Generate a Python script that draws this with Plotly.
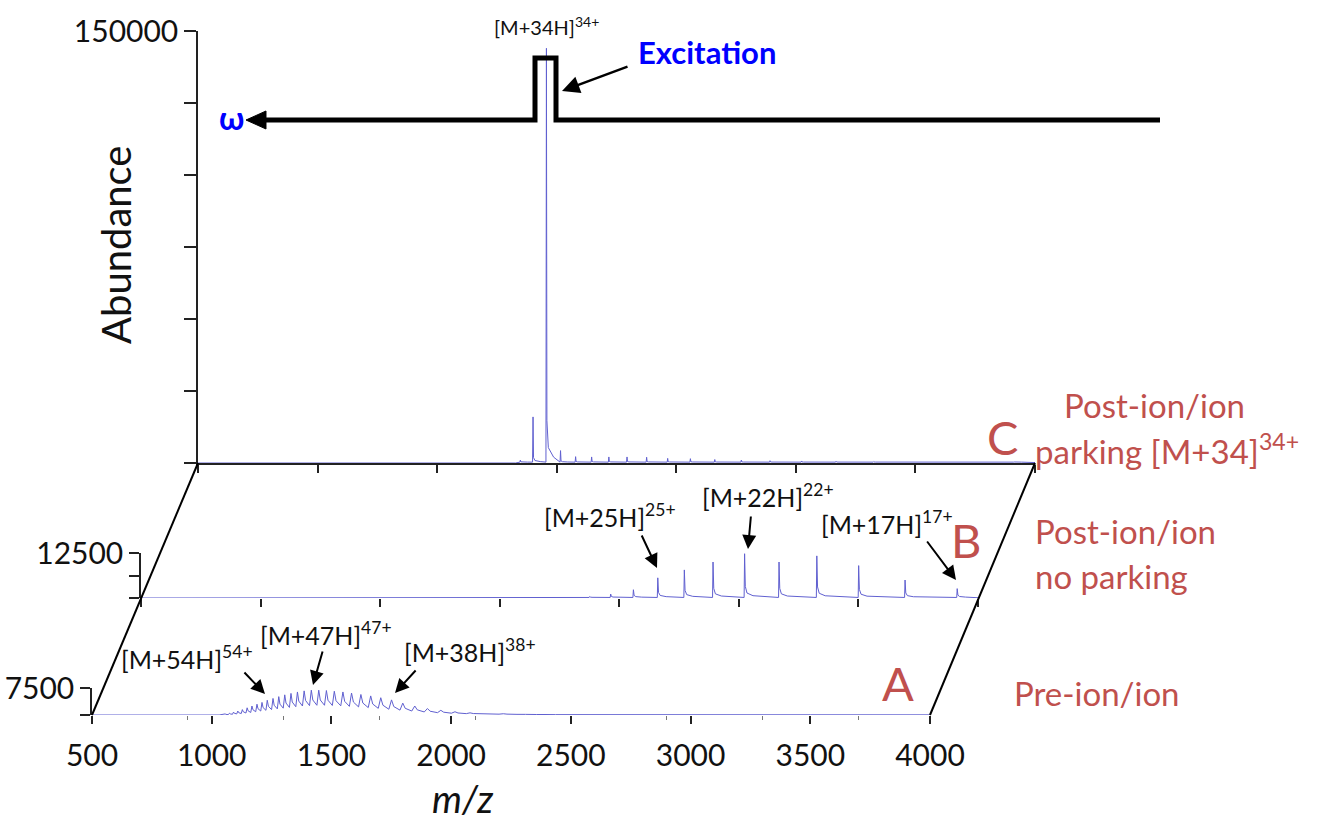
import plotly.graph_objects as go

W, H = 1335, 826

# ---------------- data ----------------
mz_ticks = [500, 1000, 1500, 2000, 2500, 3000, 3500, 4000]
mz_tick_text = [str(v) for v in mz_ticks]
mz_minor_A = [900, 1300, 1700, 2100, 2900, 3300, 3700]

# Panel A: pre-ion/ion (charge states 63+ ... 28+)
A_mz = [1056, 1074, 1091, 1109, 1128, 1148, 1168, 1189, 1210, 1232, 1256, 1280,
        1305, 1331, 1358, 1386, 1416, 1447, 1479, 1512, 1548, 1584, 1623, 1664,
        1706, 1751, 1798, 1848, 1901, 1957, 2016, 2079, 2146, 2218, 2294, 2376]
A_peak = [300, 500, 800, 1100, 1500, 2000, 2500, 3000, 3500, 4100, 4600, 5100,
          5600, 6000, 6400, 6700, 6900, 6900, 6800, 6600, 6400, 6100, 5700, 5300,
          4800, 4200, 3300, 2500, 1800, 1300, 900, 600, 450, 350, 250, 200]
A_valley = [100, 200, 300, 400, 550, 700, 900, 1100, 1300, 1500, 1700, 1900,
            2100, 2300, 2500, 2600, 2700, 2700, 2650, 2550, 2400, 2250, 2050, 1850,
            1600, 1350, 1100, 850, 650, 500, 380, 300, 230, 180, 140, 100]
A_tail_mz = [2600, 3000, 3500, 4000]
A_tail_int = [120, 80, 60, 50]

# Panel B: post-ion/ion, no parking (28+ ... 17+)
B_mz = [2376, 2464, 2559, 2661, 2772, 2892, 3024, 3168, 3326, 3501, 3695, 3913]
B_peak = [400, 1100, 2300, 5600, 7800, 10000, 12300, 10000, 11700, 9000, 5000, 2600]
B_base = 150

# Panel C: post-ion/ion parking of [M+34H]34+
C_mz = [1848, 1901, 1957, 2016, 2079, 2146, 2218, 2294, 2376, 2464, 2559, 2661,
        2772, 2892, 3024, 3168, 3326, 3501, 3695, 3913]
C_peak = [1000, 16000, 144000, 4300, 2200, 2100, 2100, 2100, 2000, 1600, 1500, 1200,
          1000, 800, 700, 600, 500, 400, 400, 350]
C_base = 300

C_yticks = [0, 25000, 50000, 75000, 100000, 125000, 150000]
B_yticks = [0, 6250, 12500]
A_yticks = [0, 7500]

# ---------------- helpers ----------------
def px(x):
    return x / W


def py(y):
    return 1 - y / H


# peak shape styles: (offset in m/z, fraction of height)
TAIL_B = [(3, 0.25), (10, 0.10), (35, 0.04)]
TAIL_C = [(2, 0.10), (8, 0.035), (30, 0.012)]


def stick_spectrum(mzs, heights, base, tail, start=500, end=4000):
    xs, ys = [start, mzs[0] - 20], [0, 0]
    for m, h in zip(mzs, heights):
        xs.append(m - 2)
        ys.append(base)
        xs.append(m)
        ys.append(h)
        for off, frac in tail:
            xs.append(m + off)
            ys.append(base + frac * h)
    xs.append(end)
    ys.append(base * 0.5)
    return xs, ys


def hump_spectrum(mzs, peaks, valleys, tail_x, tail_y, start=500):
    xs, ys = [start, mzs[0] - 25], [0, 0]
    for i, (m, h, v) in enumerate(zip(mzs, peaks, valleys)):
        gap = (mzs[i + 1] - m) if i + 1 < len(mzs) else 80
        xs += [m, m + 0.2 * gap, m + 0.75 * gap]
        ys += [h, v + 0.35 * (h - v), v]
    xs += tail_x
    ys += tail_y
    return xs, ys


LINE = dict(color="rgb(96,96,208)", width=1)
AX = "#222222"
FONT = "Lato, 'DejaVu Sans', sans-serif"

fig = go.Figure()

ax_, ay_ = hump_spectrum(A_mz, A_peak, A_valley, A_tail_mz, A_tail_int)
fig.add_trace(go.Scatter(x=ax_, y=ay_, mode="lines", line=LINE, xaxis="x", yaxis="y",
                         hoverinfo="skip"))
bx_, by_ = stick_spectrum(B_mz, B_peak, B_base, TAIL_B)
fig.add_trace(go.Scatter(x=bx_, y=by_, mode="lines", line=LINE, xaxis="x2", yaxis="y2",
                         hoverinfo="skip"))
cx_, cy_ = stick_spectrum(C_mz, C_peak, C_base, TAIL_C)
fig.add_trace(go.Scatter(x=cx_, y=cy_, mode="lines", line=LINE, xaxis="x3", yaxis="y3",
                         hoverinfo="skip"))

# panel geometry (pixel positions)
A_X, A_Y = (92, 930), (715, 688)
B_X, B_Y = (141, 978), (598, 553)
C_X, C_Y = (198, 1035), (463, 31)


def xdom(p):
    return [px(p[0]), px(p[1])]


def ydom(p):
    return [py(p[0]), py(p[1])]


common_x = dict(range=[500, 4000], tickvals=mz_ticks, ticks="outside", ticklen=8,
                tickwidth=1.5, tickcolor=AX, showgrid=False, zeroline=False,
                automargin=False)
common_y = dict(ticks="outside", tickwidth=1.5, tickcolor=AX, showgrid=False,
                zeroline=False, showline=True, linecolor=AX, linewidth=1.5,
                automargin=False,
                tickfont=dict(family=FONT, size=30, color="#111"))

fig.update_layout(
    width=W, height=H, margin=dict(l=0, r=0, t=0, b=0, pad=0, autoexpand=False),
    paper_bgcolor="white", plot_bgcolor="rgba(0,0,0,0)", showlegend=False,
    xaxis=dict(domain=xdom(A_X), anchor="y", showline=False,
               ticktext=mz_tick_text, showticklabels=True, ticklabelstandoff=6,
               tickfont=dict(family=FONT, size=30, color="#111"),
               minor=dict(tickvals=mz_minor_A, ticks="outside", ticklen=4,
                          tickcolor="#777", tickwidth=1),
               **common_x),
    yaxis=dict(domain=ydom(A_Y), anchor="x", range=[0, 7500], tickvals=A_yticks,
               ticktext=["", "7500"], ticklen=10, **common_y),
    xaxis2=dict(domain=xdom(B_X), anchor="y2", showline=False, showticklabels=False,
                **common_x),
    yaxis2=dict(domain=ydom(B_Y), anchor="x2", range=[0, 12500], tickvals=B_yticks,
                ticktext=["", "", "12500"], ticklen=10, **common_y),
    xaxis3=dict(domain=xdom(C_X), anchor="y3", showline=True, linecolor=AX,
                linewidth=1.5, showticklabels=False, **common_x),
    yaxis3=dict(domain=ydom(C_Y), anchor="x3", range=[0, 150000], tickvals=C_yticks,
                ticktext=["", "", "", "", "", "", "150000"], ticklen=12, **common_y),
)

shapes = []
# slanted perspective lines linking the three panels
shapes.append(dict(type="line", xref="paper", yref="paper",
                   x0=px(A_X[0]), y0=py(A_Y[0]), x1=px(C_X[0]), y1=py(C_Y[0]),
                   line=dict(color="black", width=2)))
shapes.append(dict(type="line", xref="paper", yref="paper",
                   x0=px(A_X[1]), y0=py(A_Y[0]), x1=px(C_X[1]), y1=py(C_Y[0]),
                   line=dict(color="black", width=2)))
# excitation waveform
wave = [(1160, 120), (556, 120), (556, 58), (535, 58), (535, 120), (262, 120)]
path = "M " + " L ".join(f"{px(x):.5f},{py(y):.5f}" for x, y in wave)
shapes.append(dict(type="path", xref="paper", yref="paper", path=path,
                   line=dict(color="black", width=5)))
head = [(246, 120), (266, 111), (266, 129)]
hpath = "M " + " L ".join(f"{px(x):.5f},{py(y):.5f}" for x, y in head) + " Z"
shapes.append(dict(type="path", xref="paper", yref="paper", path=hpath,
                   fillcolor="black", line=dict(color="black", width=1)))
fig.update_layout(shapes=shapes)

ann = []


def text(t, x, y, size, color="#111", xanchor="center", angle=0, bold=False):
    if bold:
        t = f"<b>{t}</b>"
    ann.append(dict(text=t, x=px(x), y=py(y), xref="paper", yref="paper",
                    xanchor=xanchor, yanchor="middle", showarrow=False,
                    textangle=angle, font=dict(family=FONT, size=size, color=color)))


def arrow(x0, y0, x1, y1, width=2):
    ann.append(dict(text="", x=px(x1), y=py(y1), xref="paper", yref="paper",
                    ax=x0 - x1, ay=y0 - y1, axref="pixel", ayref="pixel",
                    showarrow=True, arrowhead=2, arrowsize=1.4, arrowwidth=width,
                    arrowcolor="black"))


LAB = 25
text("[M+34H]<sup>34+</sup>", 546, 26, 20)
text("[M+25H]<sup>25+</sup>", 610, 515, LAB)
text("[M+22H]<sup>22+</sup>", 768, 495, LAB)
text("[M+17H]<sup>17+</sup>", 887, 522, LAB)
text("[M+54H]<sup>54+</sup>", 187, 657, LAB)
text("[M+47H]<sup>47+</sup>", 326, 633, LAB)
text("[M+38H]<sup>38+</sup>", 470, 650, LAB)

arrow(641, 534, 657, 568)
arrow(751, 515, 748, 549)
arrow(926, 540, 956, 580)
arrow(243, 671, 265, 694)
arrow(323, 650, 313, 685)
arrow(417, 669, 395, 693)
arrow(629, 66, 562, 91, width=2.5)

text("Excitation", 707, 52, 31, color="#0000ff", bold=True)
text("ω", 231, 117, 32, color="#0000ff", bold=True)

text("Abundance", 116, 245, 40, angle=-90)
text("<i>m/z</i>", 462, 798, 38)

RED = "#c0504d"
text("C", 1002, 437, 47, color=RED)
text("B", 966, 540, 47, color=RED)
text("A", 898, 683, 47, color=RED)
text("Post-ion/ion", 1062, 405, 33, color=RED, xanchor="left")
text("parking [M+34]<sup>34+</sup>", 1033, 449, 33, color=RED, xanchor="left")
text("Post-ion/ion", 1033, 531, 33, color=RED, xanchor="left")
text("no parking", 1033, 576, 33, color=RED, xanchor="left")
text("Pre-ion/ion", 1012, 693, 33, color=RED, xanchor="left")

fig.update_layout(annotations=ann)
fig.write_html("out.html")
